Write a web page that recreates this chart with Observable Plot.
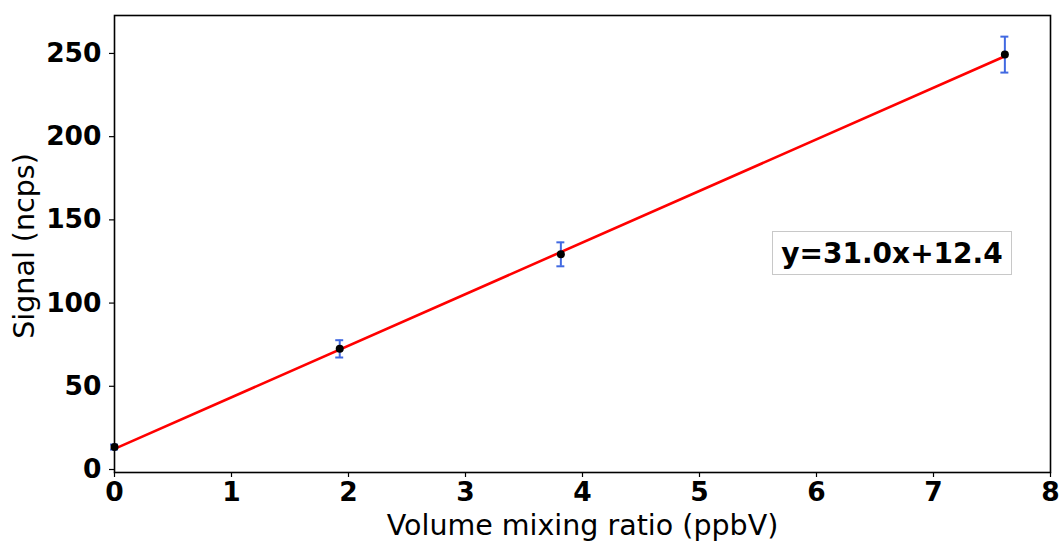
<!DOCTYPE html>
<html>
<head>
<meta charset="utf-8">
<script src="https://cdn.jsdelivr.net/npm/d3@7"></script>
<script src="https://cdn.jsdelivr.net/npm/@observablehq/plot@0.6"></script>
<style>
  html, body { margin: 0; padding: 0; background: #fff; }
  #wrap { position: relative; width: 1061px; height: 541px; }
  #legend {
    position: absolute; left: 772px; top: 231px; width: 240px; height: 44px;
    border: 1.5px solid #c8c8c8; background: #fff; box-sizing: border-box;
    font-family: "DejaVu Sans", sans-serif; font-weight: bold; font-size: 28px;
    display: flex; align-items: center; justify-content: center; color: #000;
  }
</style>
</head>
<body>
<div id="wrap"></div>
<script>
// Data
const mixingRatio = [0, 1.925, 3.815, 7.61];
const signal = [13.5, 72.5, 129.3, 249.3];
const signalErr = [1.5, 5.2, 7.2, 10.8];
const slope = 31.0;
const intercept = 12.4;
const fitLabel = "y=31.0x+12.4";
const xTicks = [0, 1, 2, 3, 4, 5, 6, 7, 8];
const yTicks = [0, 50, 100, 150, 200, 250];

const points = mixingRatio.map((x, i) => ({x, y: signal[i], e: signalErr[i]}));
const xMin = d3.min(mixingRatio), xMax = d3.max(mixingRatio);
const fit = [xMin, xMax].map(x => ({x, y: slope * x + intercept}));
const cap = 0.034;

const font = '"DejaVu Sans", sans-serif';

const chart = Plot.plot({
  width: 1061,
  height: 541,
  marginLeft: 114,
  marginRight: 11,
  marginTop: 15,
  marginBottom: 69,
  style: {fontFamily: font, background: "#fff", color: "#000"},
  x: {domain: [0, 8], ticks: xTicks, label: null},
  y: {domain: [-1.8, 272.8], ticks: yTicks, label: null},
  marks: [
    Plot.axisX({ticks: xTicks, tickSize: 5, tickPadding: 5, fontSize: 26.5, fontWeight: "bold", label: null, stroke: "#000", strokeWidth: 1.2}),
    Plot.axisY({ticks: yTicks, tickSize: 5, tickPadding: 8, fontSize: 26.5, fontWeight: "bold", label: null, stroke: "#000", strokeWidth: 1.2}),
    Plot.line(fit, {x: "x", y: "y", stroke: "#ff0000", strokeWidth: 2.6}),
    Plot.ruleX(points, {x: "x", y1: d => d.y - d.e, y2: d => d.y + d.e, stroke: "#4169e1", strokeWidth: 2}),
    Plot.ruleY(points, {y: d => d.y - d.e, x1: d => d.x - cap, x2: d => d.x + cap, stroke: "#4169e1", strokeWidth: 2}),
    Plot.ruleY(points, {y: d => d.y + d.e, x1: d => d.x - cap, x2: d => d.x + cap, stroke: "#4169e1", strokeWidth: 2}),
    Plot.dot(points, {x: "x", y: "y", r: 4, fill: "#000"}),
    Plot.frame({stroke: "#000", strokeWidth: 1.6}),
    Plot.text(["Volume mixing ratio (ppbV)"], {frameAnchor: "bottom", dy: 62, fontSize: 28.5, fill: "#000", fontFamily: font}),
    Plot.text(["Signal (ncps)"], {frameAnchor: "left", textAnchor: "middle", dx: -90, dy: 2, rotate: -90, fontSize: 28.5, fill: "#000", fontFamily: font})
  ]
});
const wrap = document.getElementById("wrap");
wrap.appendChild(chart);
const legend = document.createElement("div");
legend.id = "legend";
legend.textContent = fitLabel;
wrap.appendChild(legend);
</script>
</body>
</html>
